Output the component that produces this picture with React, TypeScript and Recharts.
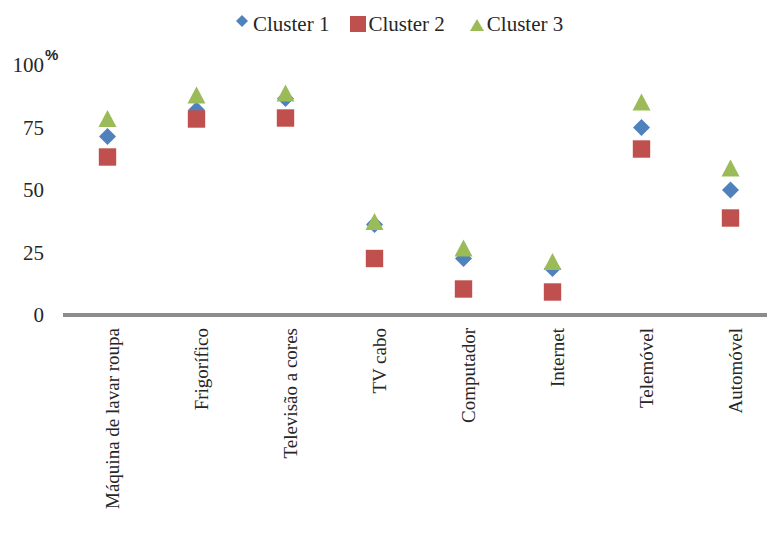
import React from 'react';
import { ComposedChart, Line, XAxis, YAxis } from 'recharts';

const categories = [
  'Máquina de lavar roupa',
  'Frigorífico',
  'Televisão a cores',
  'TV cabo',
  'Computador',
  'Internet',
  'Telemóvel',
  'Automóvel',
];
const cluster1 = [71.4, 82, 86.6, 36.2, 22.6, 18.6, 75, 50];
const cluster2 = [63.2, 78.4, 78.8, 22.6, 10.4, 9.2, 66.4, 38.8];
const cluster3 = [78.6, 88, 88.8, 37.4, 26.8, 21.4, 85.2, 58.8];
const yTicks = [0, 25, 50, 75, 100];
const seriesNames = ['Cluster 1', 'Cluster 2', 'Cluster 3'];

const BLUE = '#4F81BD';
const RED = '#C0504D';
const GREEN = '#9BBB59';
const TEXT = '#262626';
const SERIF = '"Liberation Serif", "Times New Roman", serif';

const data = categories.map((name, i) => ({
  name,
  c1: cluster1[i],
  c2: cluster2[i],
  c3: cluster3[i],
}));

const Diamond = (props: any) => {
  const { cx, cy } = props;
  if (cx == null || cy == null) return null;
  const w = 8.5;
  return (
    <polygon
      points={`${cx},${cy - w} ${cx + w},${cy} ${cx},${cy + w} ${cx - w},${cy}`}
      fill={BLUE}
    />
  );
};

const Square = (props: any) => {
  const { cx, cy } = props;
  if (cx == null || cy == null) return null;
  const s = 8.7;
  return <rect x={cx - s} y={cy - s} width={2 * s} height={2 * s} fill={RED} />;
};

const Triangle = (props: any) => {
  const { cx, cy } = props;
  if (cx == null || cy == null) return null;
  const hw = 9;
  const hh = 8.5;
  return (
    <polygon
      points={`${cx},${cy - hh} ${cx + hw},${cy + hh} ${cx - hw},${cy + hh}`}
      fill={GREEN}
    />
  );
};

const XTick = (props: any) => {
  const { x, y, payload } = props;
  const tx = x + 5;
  const ty = y;
  return (
    <text
      x={tx}
      y={ty}
      transform={`rotate(-90, ${tx}, ${ty})`}
      textAnchor="end"
      dy="0.35em"
      style={{ fontFamily: SERIF, fontSize: 19 }}
      fill={TEXT}
    >
      {payload.value}
    </text>
  );
};

const YTick = (props: any) => {
  const { x, y, payload } = props;
  return (
    <text
      x={x}
      y={y}
      textAnchor="end"
      dy="0.35em"
      style={{ fontFamily: SERIF, fontSize: 21 }}
      fill={TEXT}
    >
      {payload.value}
    </text>
  );
};

const LegendItem = ({ icon, label }: { icon: React.ReactNode; label: string }) => (
  <div style={{ display: 'flex', alignItems: 'center' }}>
    {icon}
    <span>{label}</span>
  </div>
);

export default function App() {
  return (
    <div
      style={{
        position: 'absolute',
        left: 0,
        top: 0,
        width: 767,
        height: 540,
        overflow: 'hidden',
        background: '#fff',
        fontFamily: SERIF,
      }}
    >
      <ComposedChart
        width={780}
        height={540}
        data={data}
        margin={{ top: 65, right: 5, bottom: 5, left: 0 }}
      >
        <XAxis
          dataKey="name"
          interval={0}
          padding={{ left: 44.5, right: 44.5 }}
          tickLine={false}
          tickSize={0}
          tickMargin={13}
          height={220}
          axisLine={{ stroke: '#8C8C8C', strokeWidth: 4 }}
          tick={<XTick />}
        />
        <YAxis
          domain={[0, 100]}
          ticks={yTicks}
          width={63}
          axisLine={false}
          tickLine={false}
          tickSize={0}
          tickMargin={19}
          tick={<YTick />}
        />
        <Line
          dataKey="c1"
          name={seriesNames[0]}
          stroke="none"
          isAnimationActive={false}
          dot={<Diamond />}
          activeDot={false}
        />
        <Line
          dataKey="c2"
          name={seriesNames[1]}
          stroke="none"
          isAnimationActive={false}
          dot={<Square />}
          activeDot={false}
        />
        <Line
          dataKey="c3"
          name={seriesNames[2]}
          stroke="none"
          isAnimationActive={false}
          dot={<Triangle />}
          activeDot={false}
        />
      </ComposedChart>

      <span
        style={{
          position: 'absolute',
          left: 45,
          top: 46,
          fontFamily: '"Liberation Sans", Arial, sans-serif',
          fontWeight: 'bold',
          fontSize: 15,
          color: TEXT,
        }}
      >
        %
      </span>

      <div
        style={{
          position: 'absolute',
          left: 236,
          top: 12,
          display: 'flex',
          alignItems: 'center',
          fontFamily: SERIF,
          fontSize: 21,
          lineHeight: '24px',
          color: TEXT,
        }}
      >
        <LegendItem
          label={seriesNames[0]}
          icon={
            <svg width={12} height={12} style={{ marginRight: 5, position: 'relative', top: -3 }}>
              <polygon points="6,0 12,6 6,12 0,6" fill={BLUE} />
            </svg>
          }
        />
        <div style={{ width: 21 }} />
        <LegendItem
          label={seriesNames[1]}
          icon={
            <svg width={16} height={16} style={{ marginRight: 2, position: 'relative', top: 0 }}>
              <rect x={0} y={0} width={16} height={16} fill={RED} />
            </svg>
          }
        />
        <div style={{ width: 25 }} />
        <LegendItem
          label={seriesNames[2]}
          icon={
            <svg width={14} height={12} style={{ marginRight: 3, position: 'relative', top: 1 }}>
              <polygon points="7,0 14,12 0,12" fill={GREEN} />
            </svg>
          }
        />
      </div>
    </div>
  );
}
